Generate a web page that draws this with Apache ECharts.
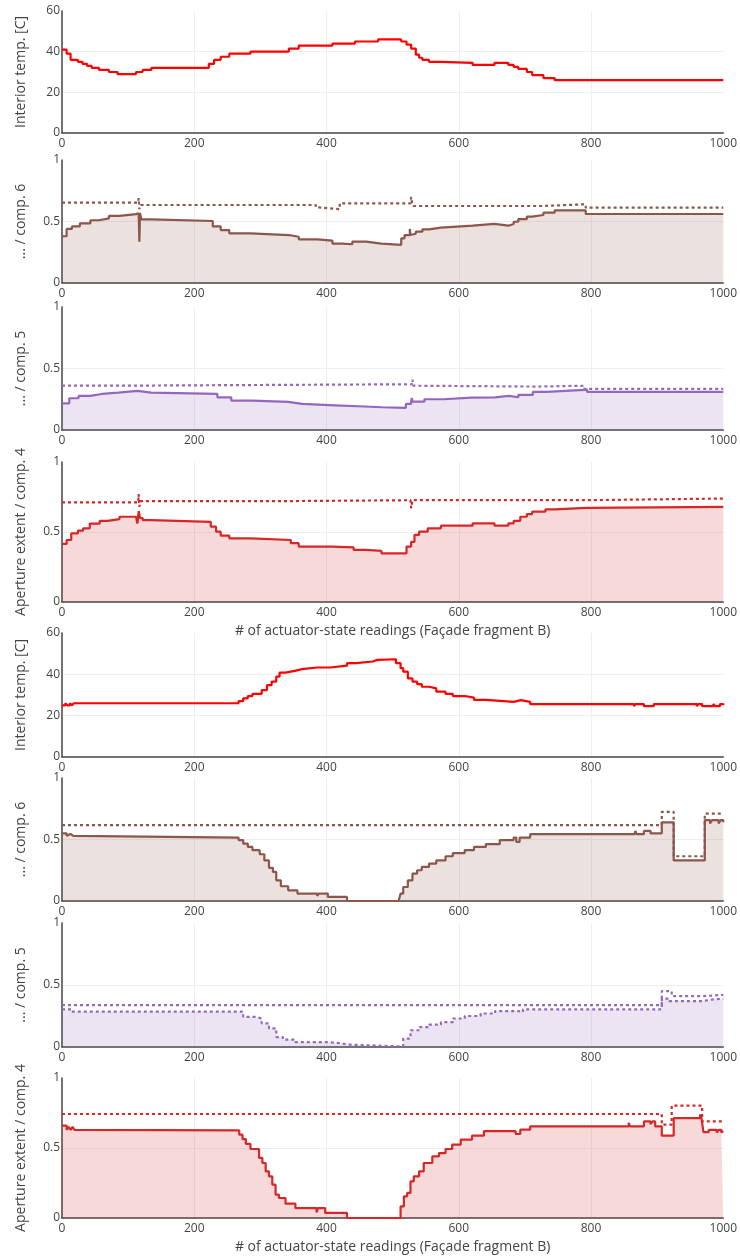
<!DOCTYPE html>
<html>
<head>
<meta charset="utf-8">
<script src="https://cdn.jsdelivr.net/npm/echarts@6/dist/echarts.min.js"></script>
<style>
  html, body { margin: 0; padding: 0; background: #fff; }
  #chart { width: 740px; height: 1257px; }
</style>
</head>
<body>
<div id="chart"></div>
<script>
// === DONNEES : [lecture, valeur] ===
const xName = "# of actuator-state readings (Façade fragment B)";
const yNames = ["Interior temp. [C]", "... / comp. 6", "... / comp. 5", "Aperture extent / comp. 4"];

// Bloc A
const tempA = [[0,41],[7,39],[13,36],[24,35],[31,34],[38,33],[45,32],[56,31],[71,30],[84,29],[112,30],[122,31],[135,32],[222,34],[230,36],[240,37.5],[253,39],[285,40],[343,41.5],[358,43],[409,44],[443,45],[478,46],[513,45],[521,43.5],[528,41.5],[535,38.5],[540,37],[545,36],[555,35],[573,34.5],[621,33.5],[654,34.5],[675,33.5],[683,32.5],[690,31.5],[703,30],[711,28.5],[728,27],[745,26],[1000,26]];
const comp6A = [[0,0.38],[7,0.44],[15,0.46],[27,0.485],[43,0.51],[56,0.526],[71,0.545],[87,0.56],[112,0.566],[116,0.575],[117,0.336],[118,0.57],[120,0.518],[135,0.504],[228,0.46],[240,0.43],[253,0.404],[285,0.39],[343,0.376],[358,0.355],[386,0.344],[409,0.32],[424,0.315],[439,0.336],[460,0.32],[483,0.31],[513,0.363],[518,0.39],[526,0.44],[527,0.39],[528,0.40],[535,0.417],[545,0.436],[555,0.45],[573,0.466],[621,0.48],[654,0.466],[675,0.48],[683,0.498],[690,0.52],[703,0.54],[711,0.553],[728,0.572],[745,0.59],[792,0.561],[1000,0.561]];
const comp6A_ref = [[0,0.653],[115,0.653],[116,0.69],[117,0.6],[119,0.634],[379,0.634],[384,0.615],[388,0.6],[420,0.648],[527,0.648],[528,0.7],[529,0.66],[531,0.626],[725,0.64],[792,0.612],[1000,0.612]];
const comp5A = [[0,0.217],[11,0.258],[25,0.277],[43,0.293],[60,0.304],[85,0.318],[114,0.304],[135,0.293],[235,0.266],[256,0.239],[288,0.228],[342,0.212],[363,0.201],[413,0.193],[448,0.185],[484,0.18],[520,0.212],[528,0.23],[529,0.26],[530,0.23],[548,0.25],[577,0.264],[619,0.266],[655,0.277],[676,0.266],[690,0.285],[712,0.31],[733,0.326],[790,0.33],[794,0.31],[1000,0.31]];
const comp5A_ref = [[0,0.361],[115,0.372],[529,0.372],[530,0.41],[531,0.36],[535,0.353],[720,0.36],[790,0.334],[1000,0.334]];
const comp4A = [[0,0.415],[7,0.443],[14,0.49],[24,0.51],[32,0.526],[42,0.56],[57,0.58],[69,0.592],[87,0.609],[112,0.604],[114,0.56],[116,0.65],[118,0.6],[122,0.585],[135,0.573],[225,0.538],[233,0.502],[240,0.474],[253,0.455],[285,0.443],[346,0.42],[358,0.396],[409,0.39],[441,0.372],[459,0.365],[483,0.348],[521,0.396],[528,0.43],[533,0.479],[540,0.502],[553,0.526],[573,0.545],[621,0.562],[654,0.545],[675,0.562],[683,0.58],[693,0.609],[703,0.628],[711,0.645],[731,0.661],[745,0.673],[793,0.68],[1000,0.68]];
const comp4A_ref = [[0,0.711],[115,0.711],[116,0.77],[117,0.68],[119,0.72],[318,0.727],[527,0.727],[528,0.67],[530,0.727],[793,0.739],[1000,0.739]];

// Bloc B
const tempB = [[0,25],[5,26],[8,25],[12,26],[15,25],[18,26],[267,27],[274,28.4],[281,29.5],[288,30.5],[302,32.4],[310,34.8],[317,36.5],[324,38.9],[329,40.8],[338,41.7],[352,42.5],[363,43.3],[386,44],[388,43.3],[406,44.2],[431,45.4],[445,46.2],[470,47],[477,47.3],[505,45.4],[512,43],[516,41.3],[523,38],[530,36.5],[537,35.3],[544,34],[555,33.2],[566,31.6],[580,30.5],[591,29.5],[609,28.7],[623,27.6],[641,26.7],[683,27.5],[694,26.7],[708,25.6],[865,24.6],[867,25.6],[880,24.6],[895,25.6],[960,24.6],[962,25.6],[968,24.6],[985,25.6],[988,24.6],[995,25.6],[1000,25]];
const comp6B = [[0,0.55],[7,0.53],[10,0.545],[13,0.53],[17,0.545],[20,0.516],[267,0.495],[274,0.467],[281,0.44],[288,0.413],[299,0.38],[306,0.33],[313,0.27],[319,0.236],[324,0.168],[331,0.12],[342,0.087],[356,0.06],[386,0.04],[388,0.06],[402,0.033],[431,0],[509,0],[512,0.06],[516,0.114],[523,0.168],[530,0.223],[537,0.25],[544,0.277],[555,0.304],[566,0.33],[580,0.364],[591,0.39],[609,0.413],[623,0.44],[641,0.462],[662,0.495],[683,0.516],[687,0.48],[692,0.516],[708,0.543],[866,0.543],[867,0.57],[869,0.543],[880,0.57],[890,0.55],[907,0.64],[925,0.33],[968,0.33],[972,0.657],[980,0.63],[983,0.657],[993,0.63],[996,0.657],[1000,0.64]];
const comp6B_ref = [[0,0.617],[907,0.725],[925,0.364],[968,0.364],[972,0.71],[1000,0.71]];
const comp5B = [[0,0.303],[14,0.285],[274,0.243],[292,0.23],[302,0.19],[313,0.15],[324,0.08],[334,0.06],[352,0.04],[399,0.032],[420,0.02],[431,0.005],[509,0.005],[516,0.068],[527,0.135],[541,0.16],[555,0.18],[573,0.2],[591,0.23],[609,0.25],[633,0.27],[655,0.29],[690,0.28],[697,0.303],[907,0.39],[918,0.37],[968,0.384],[985,0.39],[1000,0.39]];
const comp5B_ref = [[0,0.338],[907,0.45],[922,0.41],[968,0.42],[1000,0.42]];
const comp4B = [[0,0.66],[7,0.63],[10,0.65],[13,0.63],[16,0.65],[19,0.63],[22,0.626],[268,0.595],[273,0.564],[278,0.529],[285,0.493],[298,0.429],[303,0.393],[308,0.333],[313,0.298],[318,0.238],[323,0.167],[328,0.143],[338,0.102],[353,0.071],[385,0.04],[387,0.071],[398,0.036],[431,0],[512,0.083],[517,0.155],[522,0.179],[527,0.262],[532,0.298],[540,0.333],[547,0.393],[560,0.44],[570,0.464],[580,0.493],[590,0.524],[603,0.56],[620,0.588],[638,0.62],[686,0.6],[693,0.631],[708,0.655],[857,0.68],[859,0.655],[880,0.69],[890,0.67],[893,0.69],[897,0.655],[907,0.588],[925,0.714],[965,0.74],[967,0.714],[970,0.614],[978,0.63],[990,0.61],[993,0.63],[997,0.61],[1000,0.62]];
const comp4B_ref = [[0,0.743],[907,0.667],[922,0.802],[968,0.69],[1000,0.69]];

// === COULEURS ===
const ROUGE = "#ff0000";
const BRUN = "#8c564b";
const VIOLET = "#9467bd";
const ROUGE4 = "#d62728";
const TEXTE = "#444";

// === PANNEAUX ===
const panneaux = [
    { top: 11,   height: 122, temp: true,  yName: yNames[0], lignes: [{ data: tempA, color: ROUGE }] },
    { top: 160,  height: 123, temp: false, yName: yNames[1], lignes: [{ data: comp6A, color: BRUN, fill: "rgba(140,86,75,0.25)" }, { data: comp6A_ref, color: BRUN, dot: true }] },
    { top: 307,  height: 123, temp: false, yName: yNames[2], lignes: [{ data: comp5A, color: VIOLET, fill: "rgba(148,103,189,0.25)" }, { data: comp5A_ref, color: VIOLET, dot: true }] },
    { top: 462,  height: 140, temp: false, yName: yNames[3], xTitle: true, lignes: [{ data: comp4A, color: ROUGE4, fill: "rgba(214,39,40,0.25)" }, { data: comp4A_ref, color: ROUGE4, dot: true }] },
    { top: 633,  height: 124, temp: true,  yName: yNames[0], lignes: [{ data: tempB, color: ROUGE }] },
    { top: 778,  height: 123, temp: false, yName: yNames[1], lignes: [{ data: comp6B, color: BRUN, fill: "rgba(140,86,75,0.25)" }, { data: comp6B_ref, color: BRUN, dot: true }] },
    { top: 923,  height: 124, temp: false, yName: yNames[2], lignes: [{ data: comp5B, color: VIOLET, fill: "rgba(148,103,189,0.25)", dot: true }, { data: comp5B_ref, color: VIOLET, dot: true }] },
    { top: 1078, height: 140, temp: false, yName: yNames[3], xTitle: true, lignes: [{ data: comp4B, color: ROUGE4, fill: "rgba(214,39,40,0.25)" }, { data: comp4B_ref, color: ROUGE4, dot: true }] }
];

const police = "'Open Sans', 'Noto Sans', sans-serif";
const grid = [], xAxis = [], yAxis = [], series = [];

panneaux.forEach((p, i) => {
    grid.push({ left: 62, width: 662, top: p.top, height: p.height });
    xAxis.push({
        type: "value", gridIndex: i, min: 0, max: 1000, interval: 200,
        name: p.xTitle ? xName : "", nameLocation: "middle", nameGap: 22,
        nameTextStyle: { color: TEXTE, fontSize: 14, fontFamily: police },
        axisLine: { show: true, onZero: false, lineStyle: { color: TEXTE, width: 1.5 } },
        axisTick: { show: false },
        axisLabel: { color: TEXTE, fontSize: 12, fontFamily: police, margin: 5, formatter: v => String(v) },
        splitLine: { show: true, showMinLine: false, showMaxLine: false, lineStyle: { color: "#eee", width: 1 } }
    });
    yAxis.push({
        type: "value", gridIndex: i, min: 0,
        max: p.temp ? 60 : 1, interval: p.temp ? 20 : 0.5,
        name: p.yName, nameLocation: "middle", nameGap: 34,
        nameTextStyle: { color: TEXTE, fontSize: 14, fontFamily: police },
        axisLine: { show: true, lineStyle: { color: TEXTE, width: 1.5 } },
        axisTick: { show: false },
        axisLabel: { color: TEXTE, fontSize: 12, fontFamily: police, margin: 2, formatter: v => String(v) },
        splitLine: { show: true, showMinLine: false, showMaxLine: false, lineStyle: { color: "#eee", width: 1 } }
    });
    p.lignes.forEach(l => {
        series.push({
            type: "line", xAxisIndex: i, yAxisIndex: i,
            data: l.data, step: "end", showSymbol: false, symbol: "none",
            lineStyle: { color: l.color, width: 2.2, type: l.dot ? [3, 3] : "solid" },
            itemStyle: { color: l.color },
            areaStyle: l.fill ? { color: l.fill, origin: "start" } : undefined,
            z: l.dot ? 3 : 2
        });
    });
});

const chart = echarts.init(document.getElementById("chart"), null, { renderer: "canvas" });
chart.setOption({ animation: false, backgroundColor: "#fff", grid, xAxis, yAxis, series });
</script>
</body>
</html>
